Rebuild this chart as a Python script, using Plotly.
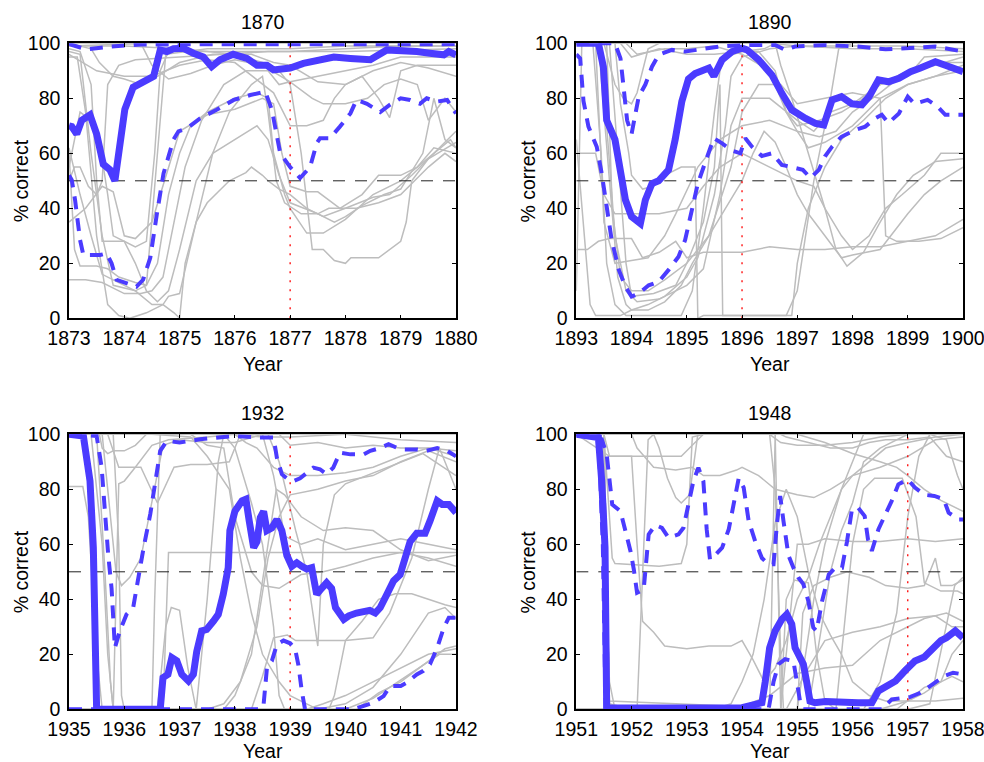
import plotly.graph_objects as go

# ---------------- data ----------------
panel_titles = ["1870", "1890", "1932", "1948"]
start_years = [1873, 1893, 1935, 1951]
event_years = [1877, 1896, 1939, 1957]
pct_ticks = [0, 20, 40, 60, 80, 100]

# thick blue line (t = years after panel start, value = % correct)
mean_1870 = [(0.0,70),(0.05,69.7),(0.14,67),(0.23,72),(0.38,74),(0.5,67),(0.62,56),(0.74,54),(0.83,50),(0.89,60),(1.01,76),(1.16,84),(1.34,86),(1.53,88),(1.65,97.5),(1.77,97),(1.89,98),(2.07,98.2),(2.25,96.4),(2.43,95),(2.58,91.5),(2.73,94),(2.97,96),(3.22,94.5),(3.4,92),(3.58,92),(3.7,90.3),(4.0,91),(4.24,92.7),(4.54,94),(4.79,95),(5.09,94.5),(5.27,94),(5.45,94),(5.75,97.6),(5.99,97.6),(6.29,97),(6.53,96.4),(6.78,95.8),(6.87,97),(7.0,95.8)]
mean_1890 = [(0,100),(0.4,100),(0.49,91.5),(0.55,72),(0.7,65),(0.8,55),(0.89,43),(1.0,37),(1.16,34.5),(1.25,43),(1.37,49),(1.49,50),(1.67,54),(1.79,65),(1.91,78.8),(2.03,87),(2.15,89),(2.4,91),(2.49,88),(2.64,94),(2.82,97),(3.0,98.2),(3.09,97.6),(3.3,94),(3.54,88.5),(3.72,81.8),(3.9,75.8),(4.15,72.7),(4.33,70.9),(4.48,70.3),(4.63,79.4),(4.8,80.6),(4.99,78),(5.17,77.6),(5.3,80.6),(5.47,86.7),(5.65,86),(5.84,87.3),(6.05,89.7),(6.23,91),(6.5,93.3),(6.68,92),(6.86,91),(7.0,89.7)]
mean_1932 = [(0,100),(0.26,99.4),(0.38,83),(0.44,58.8),(0.5,0),(1.65,0),(1.7,11.5),(1.79,12.7),(1.86,18.8),(1.95,17.6),(2.04,12.7),(2.16,10.3),(2.25,12.7),(2.31,21),(2.4,28.5),(2.49,29),(2.61,32),(2.7,34.5),(2.79,41.8),(2.88,51.5),(2.91,65),(3.0,72),(3.13,75.8),(3.2,76.4),(3.26,68.5),(3.34,58.8),(3.4,61),(3.46,69.7),(3.52,72),(3.58,65),(3.67,66),(3.76,69),(3.85,65),(3.94,56),(4.03,52),(4.12,53.3),(4.21,52),(4.3,51),(4.39,51.5),(4.48,41.8),(4.57,44),(4.66,46),(4.75,44),(4.82,37),(4.97,32.7),(5.06,34),(5.2,35),(5.38,35.8),(5.44,36),(5.54,35),(5.63,37),(5.75,41.8),(5.87,46.7),(5.99,49),(6.05,52.7),(6.17,61),(6.29,64),(6.44,64),(6.53,68.5),(6.66,75.8),(6.75,74.5),(6.87,74.5),(7.0,71.5)]
mean_1948 = [(0,100),(0.4,98.8),(0.46,83),(0.52,58.8),(0.55,0.5),(3.0,0.6),(3.24,1.8),(3.36,2.4),(3.42,10),(3.5,22.4),(3.6,28.5),(3.72,32.7),(3.81,34.5),(3.9,31),(3.96,22.4),(4.02,20),(4.11,16.4),(4.17,10),(4.23,3),(4.32,2.4),(4.51,2.8),(5.1,2.4),(5.35,2.4),(5.47,6.7),(5.65,8.5),(5.78,10.3),(5.95,14),(6.13,17.6),(6.3,19),(6.4,21),(6.6,25),(6.7,26),(6.86,28.5),(7.0,26)]

# dashed blue upper and lower bands
upper_1870 = [(0,100),(0.05,99.4),(0.32,97.8),(0.75,98.8),(1.3,99.6),(2.0,99.6),(3.0,99.4),(4.0,99.6),(5.0,99.6),(6.0,99.6),(7.0,99.7)]
lower_1870 = [(0,52),(0.05,50.3),(0.11,43),(0.2,28.5),(0.26,23),(0.56,23),(0.68,23.6),(0.77,20),(0.86,14),(1.04,12.7),(1.22,11.5),(1.34,14),(1.47,22),(1.59,38),(1.71,52.7),(1.89,65),(1.98,68),(2.13,69),(2.37,72.7),(2.67,75.8),(2.98,79.4),(3.28,81.2),(3.55,82.4),(3.67,75.8),(3.82,60),(4.0,55),(4.18,51),(4.36,55),(4.48,63.6),(4.54,65.5),(4.72,65.5),(4.9,69.7),(5.09,74.5),(5.2,79.4),(5.39,78),(5.63,75),(5.8,77.6),(6.0,80),(6.17,79.4),(6.35,78),(6.47,80),(6.65,78.8),(6.84,79.4),(7.0,74.5)]
upper_1890 = [(0,100),(0.7,100),(0.8,94.5),(0.86,84),(0.92,72),(1.0,67),(1.13,80.6),(1.25,85),(1.37,91.5),(1.49,95.8),(1.73,97.6),(1.97,97),(2.21,97.6),(2.58,98.8),(3.06,99.4),(3.6,99.4),(3.78,97.6),(3.96,98.8),(4.5,99.4),(5.1,98.8),(5.6,97.8),(6.0,98.2),(6.5,98.8),(7.0,97)]
lower_1890 = [(0,96),(0.07,94.5),(0.13,79),(0.22,69.7),(0.37,62.4),(0.46,52.7),(0.55,40.6),(0.64,28.5),(0.77,17.6),(0.89,11.5),(1.0,7.9),(1.13,9),(1.31,12),(1.49,13.3),(1.67,17.6),(1.85,22.4),(1.97,28.5),(2.1,40.6),(2.2,49),(2.37,58.8),(2.49,65.5),(2.64,63.6),(2.82,61),(2.97,60),(3.06,65.5),(3.18,62.4),(3.36,59),(3.54,60),(3.72,55.8),(3.9,55),(4.1,54),(4.24,51),(4.39,54),(4.5,58.8),(4.63,62.4),(4.8,66),(5.05,68.5),(5.23,69.7),(5.41,72.7),(5.53,74),(5.65,71),(5.84,74.5),(6.0,80.6),(6.12,78),(6.36,79.4),(6.54,77),(6.68,74),(7.0,74)]
upper_1932 = [(0,100),(0.5,99.4),(0.59,88),(0.65,71),(0.71,56),(0.77,44),(0.83,22.4),(0.92,28.5),(1.04,34.5),(1.16,36.9),(1.22,44),(1.35,58.8),(1.47,71),(1.59,85.5),(1.65,94),(1.77,97.6),(2.0,97),(2.37,98.2),(2.98,99.4),(3.46,98.8),(3.7,98.8),(3.76,91.5),(3.85,85.5),(3.94,84),(4.06,83),(4.18,84),(4.3,86),(4.42,87.9),(4.54,87.3),(4.66,85.5),(4.78,87.9),(4.9,93.3),(5.09,92.7),(5.33,92.7),(5.45,94),(5.63,95),(5.78,96.4),(6.0,94.5),(6.29,94.5),(6.47,94),(6.66,95),(6.84,94),(7.0,92)]
lower_1932 = [(0,0),(3.46,0),(3.52,1.8),(3.58,15),(3.67,17.6),(3.76,23.6),(3.88,25),(4.0,24),(4.09,22),(4.15,16),(4.21,6.7),(4.27,0),(5.15,0),(5.33,1.2),(5.5,2.4),(5.69,4.8),(5.81,8.5),(6.0,8.5),(6.11,9.7),(6.29,12.7),(6.41,14),(6.53,16.4),(6.66,22.4),(6.78,29.7),(6.87,33.3),(7.0,33.3)]
upper_1948 = [(0,100),(0.46,98.2),(0.55,92.7),(0.65,74.5),(0.8,72),(0.89,65),(0.98,57.6),(1.04,51),(1.1,42.4),(1.22,43.6),(1.31,63.6),(1.43,67),(1.55,66),(1.67,62.4),(1.85,63.6),(1.94,66),(2.03,75),(2.12,83),(2.21,87.9),(2.3,83),(2.36,65.5),(2.42,54.5),(2.51,56),(2.64,58.8),(2.76,65.5),(2.87,77.6),(2.94,84),(3.03,80.6),(3.12,68.5),(3.24,61),(3.36,55),(3.48,52.7),(3.57,52.7),(3.63,67),(3.69,77.6),(3.75,68.5),(3.84,56),(3.93,51.5),(4.02,47.9),(4.11,45.5),(4.2,39.4),(4.29,29.7),(4.35,28.5),(4.45,39.4),(4.57,49),(4.69,51.5),(4.81,51.5),(4.9,61),(4.99,72.7),(5.1,73.3),(5.22,70.3),(5.28,61.8),(5.35,57.6),(5.47,65.5),(5.59,70.3),(5.71,75.8),(5.83,81.8),(6.0,83.6),(6.13,80.6),(6.3,78),(6.48,77.6),(6.65,76.4),(6.74,71.5),(6.92,69),(7.0,69)]
lower_1948 = [(0,100),(0.4,100),(0.48,60),(0.53,0),(3.48,0),(3.57,10),(3.66,16.4),(3.78,18.2),(3.93,17.6),(4.0,10),(4.05,3),(4.11,0),(5.53,0),(5.71,3.6),(5.9,4.2),(6.05,4.5),(6.23,6),(6.4,8.5),(6.55,10.3),(6.67,12.2),(6.82,13.3),(7.0,12.7)]

# individual gray lines
gray_1870 = [
    [(0,99),(1.5,100),(3,100),(7,100)],
    [(0,97),(0.2,96),(0.4,60),(0.6,30),(0.8,12),(1.2,10),(1.4,12),(1.6,60),(1.75,96),(2.5,98),(4,98),(5,99),(7,99)],
    [(0,95),(0.15,95),(0.3,75),(0.5,30),(0.7,5),(0.9,1),(1.1,0),(1.4,2),(1.7,5),(1.9,2),(2.0,0),(2.1,20),(2.3,35),(2.5,42),(2.7,46),(2.9,50),(3.2,53),(3.3,55),(3.5,52),(3.6,50),(3.8,47),(4.0,45),(4.3,40),(4.6,37),(5.0,40),(5.5,44),(5.8,45),(6.2,52),(6.5,58),(7,64)],
    [(0,60),(0.1,25),(0.2,19),(0.5,19),(0.7,18),(0.9,15),(1.2,13),(1.4,12),(1.6,20),(1.8,45),(2.0,60),(2.2,70),(2.5,75),(3.0,80),(3.4,82),(3.6,80),(3.7,60),(3.9,45),(4.0,40),(4.3,31),(4.6,31),(5.0,36),(5.5,45),(6.0,50),(6.3,55),(6.6,62),(7,60)],
    [(0,14),(0.3,14),(0.6,13),(1.0,9),(1.3,9),(1.5,10),(1.7,15),(1.9,35),(2.1,55),(2.4,72),(2.8,85),(3.2,90),(3.6,90),(3.8,85),(4.0,86),(4.5,88),(5.0,90),(5.5,92),(6.0,95),(7,95)],
    [(0,98),(0.2,97),(0.4,85),(0.5,50),(0.6,28),(1.0,28),(1.2,26),(1.4,28),(1.55,60),(1.65,90),(1.8,97),(3,97),(4,97),(5,98),(6,99),(7,99)],
    [(0,50),(0.1,55),(0.2,55),(0.35,48),(0.5,45),(0.6,50),(0.7,85),(0.9,92),(1.2,94),(2.0,95),(3.0,96),(3.6,97),(4.0,97),(5,97),(7,98)],
    [(0,62),(0.2,45),(0.4,30),(0.6,16),(0.9,13),(1.2,10),(1.5,5),(1.7,5),(1.8,8),(2.0,9),(2.3,35),(2.6,60),(2.9,75),(3.3,85),(3.5,88),(3.6,75),(3.75,50),(3.9,42),(4.2,38),(4.5,38),(4.8,35),(5.0,37),(5.3,41),(5.7,45),(6.0,47),(6.4,60),(6.6,80),(6.8,65),(7,62)],
    [(0,99),(1.0,99),(2.0,98),(3.0,96),(3.5,93),(3.8,90),(4.0,85),(4.2,60),(4.4,25),(4.6,25),(4.8,21),(5.0,20),(5.1,22),(5.6,22),(6.0,28),(6.1,35),(6.2,50),(6.5,58),(6.8,64),(7,68)],
    [(0,35),(0.3,40),(0.6,48),(0.8,46),(1.0,30),(1.2,29),(1.5,35),(1.8,55),(2.0,68),(2.5,74),(3,76),(3.5,80),(3.7,78),(3.85,60),(4.0,48),(4.3,46),(4.5,46),(4.9,40),(5.3,45),(5.6,52),(6.0,52),(6.3,55),(6.6,60),(6.9,65),(7,62)],
    [(0,96),(0.5,90),(1.0,88),(1.5,88),(2.0,92),(2.5,94),(3.0,93),(3.5,85),(3.7,82),(4.0,70),(4.3,70),(4.6,72),(4.8,80),(5.0,85),(5.3,88),(5.6,80),(5.8,73),(6.0,90),(6.3,92),(7,92)],
    [(0,100),(0.7,100),(1.3,100),(1.5,92),(1.8,87),(2.2,89),(2.6,92),(3.0,94),(3.5,92),(4.0,86),(4.4,80),(4.6,78),(5.0,78),(5.4,80),(5.7,85),(6.0,87),(6.3,85),(6.5,72),(6.8,80),(7,75)],
    [(0,100),(0.4,98),(0.55,93),(0.8,88),(1.0,87),(1.3,85),(1.6,88),(2.0,93),(2.6,96),(3.3,96),(3.7,93),(4.0,92),(4.5,86),(5.0,85),(5.5,90),(6.0,93),(6.5,91),(7,88)],
    [(0,55),(0.2,75),(0.4,72),(0.5,68),(0.6,58),(0.7,45),(0.8,30),(1.0,28),(1.2,20),(1.4,10),(1.6,6),(1.8,10),(2.0,25),(2.3,50),(2.6,60),(3.0,65),(3.4,70),(3.6,65),(3.8,52),(4.0,42),(4.5,38),(4.7,40),(5.2,40),(5.6,42),(6.0,45),(6.5,55),(6.8,60),(7,57)],
]
gray_1890 = [
    [(0,10),(0.1,100),(2.0,100),(3.5,100),(5,100),(7,100)],
    [(0,100),(0.3,100),(0.45,60),(0.55,20),(0.7,5),(0.9,1),(1.5,1),(1.9,1),(2.1,10),(2.3,40),(2.5,75),(2.6,90),(2.7,95),(3.0,97),(3.3,97),(3.6,90),(3.8,75),(4.0,70),(4.4,72),(4.8,75),(5.2,80),(5.5,85),(6.0,90),(6.5,92),(7,95)],
    [(0,65),(0.1,40),(0.25,5),(0.35,1),(0.8,1),(1.0,3),(1.3,5),(1.6,8),(2.0,15),(2.2,22),(2.5,45),(2.7,70),(2.8,88),(3.0,95),(3.5,98),(4,99),(5,99),(6,99),(7,98)],
    [(0,100),(0.6,100),(0.75,60),(0.9,20),(1.0,8),(1.4,9),(1.8,12),(2.0,20),(2.3,35),(2.5,55),(2.6,85),(2.65,1),(3.0,1),(3.5,1),(3.9,1),(4.0,20),(4.2,40),(4.5,55),(4.8,65),(5.2,72),(5.6,80),(6.0,85),(6.5,88),(7,90)],
    [(0,100),(0.7,100),(0.8,78),(0.95,60),(1.0,52),(1.2,47),(1.4,48),(1.6,52),(1.9,55),(2.15,55),(2.2,0),(2.3,1),(3.0,1),(3.5,1),(3.8,1),(4.0,10),(4.3,50),(4.6,80),(4.75,98),(5,100),(7,100)],
    [(0,100),(0.5,100),(0.7,85),(0.85,80),(1.0,78),(1.1,82),(1.3,98),(1.5,100),(3.5,100),(4.0,99),(5,98),(6,98),(7,97)],
    [(0,60),(0.35,60),(0.5,45),(0.7,38),(1.0,38),(1.5,38),(2.0,40),(2.3,48),(2.6,55),(3.0,60),(3.4,56),(3.8,52),(4.0,50),(4.3,48),(4.5,40),(4.8,30),(5.0,25),(5.3,30),(5.6,40),(5.9,45),(6.3,52),(6.6,60),(7,60)],
    [(0,25),(0.2,25),(0.4,28),(0.6,29),(1.0,29),(1.2,22),(1.5,24),(1.8,28),(2.0,22),(2.3,24),(2.7,24),(3.0,24),(3.5,26),(4.0,25),(4.5,25),(5.0,26),(5.5,26),(6.0,28),(6.5,30),(7,36)],
    [(0,100),(0.4,100),(0.6,50),(0.75,15),(0.9,5),(1.0,3),(1.3,3),(1.6,6),(1.9,12),(2.1,20),(2.4,30),(2.7,40),(3.0,50),(3.2,60),(3.4,68),(3.6,64),(3.8,55),(4.0,45),(4.2,38),(4.5,30),(4.8,22),(5.0,23),(5.5,25),(6.0,38),(6.3,45),(6.6,50),(7,55)],
    [(0,100),(0.8,100),(1.0,95),(1.5,98),(2.0,96),(2.5,96),(3.0,97),(3.4,98),(3.6,100),(3.7,92),(3.9,80),(4.2,60),(4.5,40),(4.7,25),(4.9,19),(5.2,24),(5.5,35),(5.8,45),(6.1,52),(6.5,57),(7,58)],
    [(0,100),(0.55,100),(0.65,40),(0.8,15),(1.0,10),(1.3,10),(1.6,14),(2.0,20),(2.4,30),(2.8,55),(3.0,75),(3.3,85),(3.7,85),(4.0,78),(4.5,80),(5.0,82),(5.5,80),(5.6,30),(5.8,28),(6.2,28),(6.6,29),(7,33)],
    [(0,100),(0.35,100),(0.5,35),(0.7,20),(1.0,21),(1.3,22),(1.6,30),(1.8,38),(2.2,55),(2.6,65),(3.0,70),(3.5,72),(4.0,68),(4.2,62),(4.5,64),(5.0,70),(5.5,80),(6.0,85),(6.5,88),(7,92)],
    [(0,100),(0.45,100),(0.55,70),(0.7,30),(0.9,10),(1.1,6),(1.5,7),(2.0,12),(2.3,18),(2.6,45),(2.8,70),(3.0,80),(3.5,80),(4.0,72),(4.3,68),(4.6,75),(5.0,78),(5.5,85),(6.0,88),(6.3,95),(7,96)],
    [(0,100),(0.9,100),(1.1,96),(1.6,98),(2.0,98),(2.5,99),(3.0,96),(3.5,90),(3.8,75),(4.0,68),(4.4,66),(4.7,68),(5.0,75),(5.5,82),(6.0,90),(6.5,93),(7,93)],
]
gray_1932 = [
    [(0,81),(0.25,81),(0.35,70),(0.5,20),(0.6,0),(1.0,0),(1.5,0),(2.0,0),(2.5,0),(2.8,2),(3.1,10),(3.4,30),(3.6,55),(3.8,70),(4.0,78),(4.5,80),(5.0,83),(5.5,85),(6.0,90),(6.5,94),(7,90)],
    [(0,100),(0.5,100),(0.65,50),(0.75,10),(0.8,0),(0.85,40),(0.9,82),(1.0,83),(1.2,88),(1.5,96),(1.8,98),(2.5,99),(3.0,100),(3.5,99),(4.0,99),(5.0,100),(6,100),(7,100)],
    [(0,100),(0.55,100),(0.6,95),(0.7,93),(0.8,94),(1.0,94),(1.2,96),(1.4,100),(2.5,100),(3.0,100),(3.2,97),(3.4,95),(3.7,88),(4.0,85),(4.5,85),(5.0,86),(5.5,88),(6.0,92),(6.5,95),(7,92)],
    [(0,100),(0.6,100),(0.7,80),(0.85,50),(0.95,45),(1.1,48),(1.3,55),(1.5,75),(1.7,96),(2.0,98),(2.5,97),(3.0,97),(3.5,100),(4,100),(5,100),(6,98),(7,97)],
    [(0,100),(0.8,100),(0.9,60),(0.95,5),(1.0,0),(1.5,0),(1.55,40),(1.65,100),(2.0,100),(2.8,100),(3.0,95),(3.3,75),(3.5,60),(3.7,30),(3.8,5),(3.9,0),(4.3,0),(4.6,2),(5.0,5),(5.5,10),(6.0,15),(6.5,20),(7,22)],
    [(0,0),(1.7,0),(1.8,57),(2.5,57),(3.5,57),(4.5,57),(5.5,57),(6.5,57),(7,57)],
    [(0,100),(0.4,100),(0.6,60),(0.7,20),(0.8,0),(1.6,0),(1.75,30),(1.85,37),(2.0,36),(2.15,15),(2.3,0),(2.8,0),(3.0,5),(3.3,20),(3.6,60),(3.75,80),(3.9,78),(4.2,70),(4.6,65),(5.0,66),(5.5,65),(6.0,58),(6.5,54),(7,56)],
    [(0,100),(0.7,100),(0.9,88),(1.3,88),(1.6,75),(1.9,88),(2.2,89),(2.5,89),(2.9,90),(3.1,100),(3.5,100),(3.7,85),(3.9,63),(4.2,60),(4.5,62),(5.0,58),(5.5,60),(6.0,62),(6.5,60),(7,58)],
    [(0,100),(1.5,100),(2.2,99),(2.5,92),(2.9,80),(3.1,55),(3.3,35),(3.5,20),(3.8,10),(4.0,5),(4.5,0),(5.0,2),(5.5,8),(6.0,20),(6.5,35),(6.8,37),(7,33)],
    [(0,0),(2.3,0),(2.5,40),(2.7,90),(2.8,100),(3.6,100),(3.8,90),(4.1,65),(4.3,50),(4.5,23),(4.6,60),(4.8,78),(5.0,82),(5.5,86),(6.0,90),(6.4,93),(7,85)],
    [(0,0),(3.3,0),(3.5,12),(3.7,26),(3.95,27),(4.1,25),(4.6,25),(5.0,25),(5.5,26),(5.8,35),(6.2,55),(6.5,80),(6.7,95),(7,80)],
    [(0,0),(4.7,0),(4.8,5),(5.0,25),(5.3,32),(5.6,40),(5.9,42),(6.2,42),(6.5,40),(6.8,38),(7,37)],
    [(0,0),(5.0,0),(5.5,4),(5.8,8),(6.1,12),(6.4,16),(6.7,20),(7,20)],
    [(0,0),(5.2,0),(5.6,6),(6.0,10),(6.4,16),(6.8,22),(7,23)],
    [(0,100),(1.6,100),(2.2,100),(2.5,96),(2.8,95),(3.0,70),(3.3,50),(3.5,45),(3.8,44),(4.2,49),(4.6,50),(5.0,52),(5.5,55),(6.0,57),(6.5,55),(7,52)],
    [(0,100),(3.0,100),(3.8,100),(4.0,96),(4.5,97),(5.0,95),(5.5,96),(6.0,95),(6.5,95),(7,94)],
]
gray_1948 = [
    [(0,100),(0.5,100),(0.6,92),(1.0,92),(1.1,60),(1.2,32),(1.4,28),(1.6,23),(2.0,22),(2.4,23),(2.8,23),(3.0,25),(3.2,18),(3.4,10),(3.6,15),(3.8,25),(4.0,40),(4.2,48),(4.4,60),(4.6,70),(4.8,80),(5.0,85),(5.5,88),(6.0,92),(6.5,98),(7,99)],
    [(0,100),(0.5,100),(0.65,55),(0.7,53),(1.5,52),(1.9,53),(2.0,60),(2.1,99),(2.3,100),(3.0,100),(4,100),(5,100),(6,100),(7,100)],
    [(0,100),(0.6,92),(1.5,92),(1.9,92),(2.1,96),(2.3,100),(3.5,100),(3.7,97),(4.0,96),(4.5,96),(5.0,97),(5.5,99),(6,100),(7,100)],
    [(0,100),(1.0,100),(1.1,95),(1.4,88),(1.8,87),(2.1,88),(2.3,85),(2.6,85),(2.9,87),(3.0,88),(3.3,85),(3.6,80),(4.0,78),(4.3,77),(4.6,80),(5.0,85),(5.3,90),(5.6,95),(6.0,97),(6.5,99),(7,100)],
    [(0,100),(0.45,100),(0.6,10),(0.7,0),(1.1,0),(1.3,98),(1.4,100),(1.5,95),(1.65,84),(1.8,77),(1.9,75),(2.05,78),(2.2,100),(2.5,100),(3.5,100),(3.6,80),(3.7,20),(3.75,0),(4.0,0),(4.3,40),(4.5,60),(4.8,80),(5.0,90),(5.2,100),(7,100)],
    [(0,100),(0.45,100),(0.6,2),(1.0,0),(2.0,0),(2.5,0),(2.8,2),(3.0,10),(3.2,20),(3.4,40),(3.6,68),(3.8,80),(4.0,70),(4.2,50),(4.4,35),(4.6,27),(4.8,20),(5.0,10),(5.3,5),(5.6,3),(6.0,3),(6.5,3),(7,4)],
    [(0,100),(0.5,100),(0.6,3),(3.0,1),(3.5,5),(4.0,13),(4.5,15),(5.0,16),(5.5,25),(6.0,30),(6.3,33),(6.7,35),(7,32)],
    [(0,100),(0.5,100),(0.6,0),(3.5,0),(3.6,100),(3.7,0),(4.2,0),(4.4,25),(4.6,50),(4.8,65),(5.0,75),(5.2,90),(5.5,95),(6.0,100),(7,100)],
    [(0,100),(0.5,100),(0.6,0),(3.7,0),(3.8,40),(3.95,47),(4.2,46),(4.35,20),(4.5,3),(4.7,0),(4.8,20),(5.0,60),(5.2,80),(5.4,84),(5.9,84),(6.15,70),(6.3,46),(6.6,43),(6.9,43),(7,42)],
    [(0,100),(0.5,100),(0.6,0),(3.7,0),(4.0,60),(4.2,60),(4.5,62),(5.0,61),(5.5,61),(6.0,62),(6.5,61),(7,62)],
    [(0,100),(0.5,100),(0.6,0),(4.0,0),(4.1,35),(4.3,45),(4.6,48),(4.9,50),(5.3,48),(5.6,45),(6.0,44),(6.3,45),(6.5,55),(6.6,45),(6.8,45),(7,47)],
    [(0,0),(3.8,0),(4.2,15),(4.5,25),(5.0,28),(5.5,30),(6.0,33),(6.5,34),(6.8,30),(7,30)],
    [(0,0),(5.5,0),(6.0,3),(6.3,6),(6.6,10),(6.8,20),(7,25)],
    [(0,0),(5.8,0),(6.3,8),(6.6,10),(6.8,12),(7,10)],
    [(0,0),(6.0,0),(6.4,2),(6.7,30),(6.85,45),(7,48)],
    [(0,100),(3.7,100),(3.8,99),(4.2,97),(4.6,95),(5.0,95),(5.3,97),(5.6,98),(6.0,98),(6.4,99),(6.7,92),(7,90)],
    [(0,0),(5.2,0),(5.5,10),(5.8,35),(6.0,70),(6.2,92),(6.4,100),(6.7,98),(6.9,85),(7,80)],
    [(0,100),(4.0,100),(4.5,97),(5.0,93),(5.5,90),(5.8,88),(6.0,85),(6.3,80),(6.6,76),(7,72)],
]

means = [mean_1870, mean_1890, mean_1932, mean_1948]
uppers = [upper_1870, upper_1890, upper_1932, upper_1948]
lowers = [lower_1870, lower_1890, lower_1932, lower_1948]
grays = [gray_1870, gray_1890, gray_1932, gray_1948]

# ---------------- layout geometry ----------------
W, H = 984, 762
FONT = "Liberation Sans, Arial, Helvetica, sans-serif"
BLUE = "#4B3BFF"
GRAY = "#BDBDBD"
boxes = [  # left, right, top, bottom in pixels
    (69, 456, 43.3, 318.3),
    (576.3, 963, 43.3, 318.3),
    (69, 456, 434.3, 709.3),
    (576.3, 963, 434.3, 709.3),
]

fig = go.Figure()
annotations = []
layout_axes = {}

for i in range(4):
    xa = "x" if i == 0 else f"x{i+1}"
    ya = "y" if i == 0 else f"y{i+1}"
    s = start_years[i]

    def add(pts, **line):
        fig.add_trace(go.Scatter(x=[s + t for t, v in pts], y=[v for t, v in pts],
                                 mode="lines", line=line, xaxis=xa, yaxis=ya,
                                 hoverinfo="skip", showlegend=False))

    for g in grays[i]:
        add(g, color=GRAY, width=1.5)
    add([(0, 50), (7, 50)], color="#222222", width=1, dash="12px,10px")
    ev = event_years[i] - s
    add([(ev, 0), (ev, 100)], color="#FF0000", width=1.3, dash="2px,7px")
    add(uppers[i], color=BLUE, width=4, dash="13px,9px")
    add(lowers[i], color=BLUE, width=4, dash="13px,9px")
    add(means[i], color=BLUE, width=7)

    l, r, t_, b = boxes[i]
    years = list(range(s, s + 8))
    axis_common = dict(showline=True, linecolor="black", linewidth=1.5, mirror="ticks",
                       ticks="inside", ticklen=4, tickcolor="black", tickwidth=1, showgrid=False,
                       zeroline=False, automargin=False, ticklabeloverflow="allow",
                       tickfont=dict(family=FONT, size=19.5, color="black"))
    layout_axes["xaxis" if i == 0 else f"xaxis{i+1}"] = dict(
        domain=[l / W, r / W], range=[s, s + 7], tickvals=years,
        ticktext=[str(y) for y in years], anchor=ya, ticklabelstandoff=2, **axis_common)
    layout_axes["yaxis" if i == 0 else f"yaxis{i+1}"] = dict(
        domain=[1 - b / H, 1 - t_ / H], range=[0, 100], tickvals=pct_ticks,
        ticktext=[str(v) for v in pct_ticks], anchor=xa, ticklabelstandoff=3, **axis_common)

    cx = (l + r) / 2
    year_offset = 45.5 if i < 2 else 42
    annotations.append(dict(text=panel_titles[i], x=cx / W, y=1 - (t_ - 21.5) / H, xref="paper", yref="paper",
                            showarrow=False, xanchor="center", yanchor="middle",
                            font=dict(family=FONT, size=19.5, color="black")))
    annotations.append(dict(text="Year", x=cx / W, y=1 - (b + year_offset) / H, xref="paper", yref="paper",
                            showarrow=False, xanchor="center", yanchor="middle",
                            font=dict(family=FONT, size=19.5, color="black")))
    annotations.append(dict(text="% correct", x=(l - 48.5) / W, y=1 - ((t_ + b) / 2) / H, xref="paper", yref="paper",
                            showarrow=False, xanchor="center", yanchor="middle", textangle=-90,
                            font=dict(family=FONT, size=19.5, color="black")))

fig.update_layout(width=W, height=H, margin=dict(l=0, r=0, t=0, b=0, autoexpand=False),
                  paper_bgcolor="white", plot_bgcolor="white",
                  annotations=annotations, **layout_axes)

fig.write_html("out.html", config={"displayModeBar": False},
               post_script="document.body.style.margin='0px';document.body.style.overflow='hidden';")
